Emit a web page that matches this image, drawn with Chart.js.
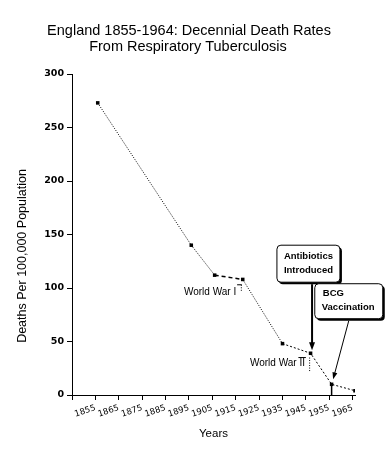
<!DOCTYPE html>
<html><head><meta charset="utf-8">
<script src="https://cdn.jsdelivr.net/npm/chart.js@4.4.1/dist/chart.umd.min.js"></script>
<style>html,body{margin:0;padding:0;background:#fff}canvas{display:block}</style>
</head><body>
<canvas id="c" width="389" height="455"></canvas>
<script>
const titleLines = ['England 1855-1964: Decennial Death Rates', 'From Respiratory Tuberculosis'];
const years = [1856, 1896, 1906, 1918, 1935, 1947, 1956, 1966];
const deathRates = [273, 140, 112, 108, 48, 39, 10, 4];
const xTickYears = [1845, 1855, 1865, 1875, 1885, 1895, 1905, 1915, 1925, 1935, 1945, 1955, 1965];
const xTickLabels = ['', '1855', '1865', '1875', '1885', '1895', '1905', '1915', '1925', '1935', '1945', '1955', '1965'];
const yTicks = [0, 50, 100, 150, 200, 250, 300];
const xTitle = 'Years';
const yTitle = 'Deaths Per 100,000 Population';
const wwiText = 'World War I';
const wwiiText = 'World War II';
const antibioticsText = ['Antibiotics', 'Introduced'];
const bcgText = ['BCG', 'Vaccination'];

function roundRect(ctx, x, y, w, h, r) {
  ctx.beginPath();
  ctx.moveTo(x + r, y);
  ctx.lineTo(x + w - r, y); ctx.quadraticCurveTo(x + w, y, x + w, y + r);
  ctx.lineTo(x + w, y + h - r); ctx.quadraticCurveTo(x + w, y + h, x + w - r, y + h);
  ctx.lineTo(x + r, y + h); ctx.quadraticCurveTo(x, y + h, x, y + h - r);
  ctx.lineTo(x, y + r); ctx.quadraticCurveTo(x, y, x + r, y);
  ctx.closePath();
}
function arrow(ctx, x1, y1, x2, y2, lw, hl, hw) {
  const a = Math.atan2(y2 - y1, x2 - x1);
  ctx.save();
  ctx.strokeStyle = '#000'; ctx.fillStyle = '#000'; ctx.lineWidth = lw;
  ctx.beginPath(); ctx.moveTo(x1, y1);
  ctx.lineTo(x2 - hl * Math.cos(a) * 0.8, y2 - hl * Math.sin(a) * 0.8); ctx.stroke();
  ctx.translate(x2, y2); ctx.rotate(a);
  ctx.beginPath(); ctx.moveTo(0, 0); ctx.lineTo(-hl, -hw / 2); ctx.lineTo(-hl, hw / 2); ctx.closePath(); ctx.fill();
  ctx.restore();
}
function box(ctx, x, y, w, h) {
  ctx.save();
  ctx.fillStyle = '#000';
  roundRect(ctx, x + 2, y + 2, w, h, 4); ctx.fill();
  ctx.fillStyle = '#fff'; ctx.strokeStyle = '#000'; ctx.lineWidth = 1;
  roundRect(ctx, x, y, w, h, 4); ctx.fill(); ctx.stroke();
  ctx.restore();
}

const decor = {
  id: 'decor',
  afterDraw(chart) {
    const ctx = chart.ctx;
    const sx = v => chart.scales.x.getPixelForValue(v);
    const sy = v => chart.scales.y.getPixelForValue(v);
    ctx.save();
    ctx.fillStyle = '#000';
    // main title
    ctx.font = '14.5px "Liberation Sans", Arial, sans-serif';
    ctx.textAlign = 'center'; ctx.textBaseline = 'middle';
    ctx.fillText(titleLines[0], 189, 30.5);
    ctx.fillText(titleLines[1], 188, 46.5);
    // y title
    ctx.save();
    ctx.translate(23, 256); ctx.rotate(-Math.PI / 2);
    ctx.font = '12.5px "Liberation Sans", Arial, sans-serif';
    ctx.fillText(yTitle, 0, 0);
    ctx.restore();

    // vertical line from BCG point to axis
    ctx.strokeStyle = '#000'; ctx.lineWidth = 1.5;
    ctx.beginPath(); ctx.moveTo(sx(years[6]), sy(deathRates[6])); ctx.lineTo(sx(years[6]), sy(0)); ctx.stroke();

    // World War I
    ctx.font = '10px "Liberation Sans", Arial, sans-serif';
    ctx.textAlign = 'right';
    ctx.fillText(wwiText, sx(1915.2), sy(96));
    ctx.lineWidth = 1;
    ctx.beginPath(); ctx.moveTo(sx(1915.6), sy(103)); ctx.lineTo(sx(1917.6), sy(103)); ctx.stroke();
    ctx.setLineDash([1, 1.5]);
    ctx.beginPath(); ctx.moveTo(sx(1917.4), sy(103)); ctx.lineTo(sx(1917.4), sy(96)); ctx.stroke();
    ctx.setLineDash([]);
    // World War II
    ctx.fillText(wwiiText, sx(1944.6), sy(30));
    ctx.beginPath(); ctx.moveTo(sx(1941.8), sy(35)); ctx.lineTo(sx(1945), sy(35)); ctx.stroke();
    ctx.setLineDash([1, 1.5]);
    ctx.beginPath(); ctx.moveTo(sx(1946.6), sy(35)); ctx.lineTo(sx(1946.6), sy(22)); ctx.stroke();
    ctx.setLineDash([]);

    // Antibiotics box
    const ax = sx(1946.3) - 32, ay = sy(140), aw = 63, ah = 37;
    box(ctx, ax, ay, aw, ah);
    ctx.fillStyle = '#000';
    ctx.textAlign = 'center';
    ctx.font = 'bold 9.5px "Liberation Sans", Arial, sans-serif';
    ctx.fillText(antibioticsText[0], ax + aw / 2, ay + 11);
    ctx.fillText(antibioticsText[1], ax + aw / 2, ay + 25);
    const ptx = sx(years[5]) + 1.5;
    arrow(ctx, ptx, ay + ah + 2, ptx, sy(deathRates[5]) - 3, 2, 8, 6);

    // BCG box
    const bx = sx(1948.8), by = sy(104), bw = 68, bh = 35;
    box(ctx, bx, by, bw, bh);
    ctx.fillStyle = '#000';
    ctx.textAlign = 'left';
    ctx.fillText(bcgText[0], bx + 8, by + 10);
    ctx.fillText(bcgText[1], bx + 7, by + 24);
    arrow(ctx, bx + 34, by + bh + 2, sx(years[6]) + 1.5, sy(deathRates[6]) - 5, 1, 7, 5);
    ctx.restore();
  }
};

new Chart(document.getElementById('c').getContext('2d'), {
  type: 'line',
  data: {
    datasets: [{
      data: years.map((y, i) => ({ x: y, y: deathRates[i] })),
      borderColor: '#000', borderWidth: 1, tension: 0, fill: false,
      pointRadius: 2.5, pointStyle: 'rect', pointBackgroundColor: '#000', pointBorderColor: '#000', pointBorderWidth: 0,
      segment: {
        borderDash: c => c.p0DataIndex === 2 ? [4, 3] : (c.p0DataIndex >= 4 ? [2, 2] : [1, 1.5]),
        borderWidth: c => c.p0DataIndex === 2 ? 1.5 : 1
      }
    }]
  },
  options: {
    responsive: false, animation: false, devicePixelRatio: 1,
    layout: { padding: { top: 74, right: 34, left: 0, bottom: 0 } },
    plugins: { legend: { display: false }, tooltip: { enabled: false }, title: { display: false } },
    scales: {
      x: {
        type: 'linear', min: 1845, max: 1966,
        afterBuildTicks: s => { s.ticks = xTickYears.map(v => ({ value: v })); },
        afterFit: s => { s.height = 60; s.paddingLeft = 0; s.paddingRight = 0; },
        ticks: {
          autoSkip: false, minRotation: 18, maxRotation: 18, padding: 3, color: '#000',
          font: { family: 'DejaVu Sans', size: 8.5 },
          callback: v => { const i = xTickYears.indexOf(v); return i >= 0 ? xTickLabels[i] : ''; }
        },
        grid: { display: true, drawOnChartArea: false, drawTicks: true, tickLength: 5, color: '#000', lineWidth: 1 },
        border: { display: true, color: '#000', width: 1 },
        title: { display: true, text: xTitle, color: '#000', font: { family: 'Liberation Sans', size: 11.5 }, padding: { top: 0, bottom: 14 } }
      },
      y: {
        min: 0, max: 300,
        afterBuildTicks: s => { s.ticks = yTicks.map(v => ({ value: v })); },
        afterFit: s => { s.width = 72; s.paddingTop = 0; s.paddingBottom = 0; },
        ticks: { color: '#000', font: { family: 'DejaVu Sans', size: 9.5, weight: 'bold' }, padding: 3 },
        grid: { display: true, drawOnChartArea: false, drawTicks: true, tickLength: 5, color: '#000', lineWidth: 1 },
        border: { display: true, color: '#000', width: 1 }
      }
    }
  },
  plugins: [decor]
});
</script>
</body></html>
